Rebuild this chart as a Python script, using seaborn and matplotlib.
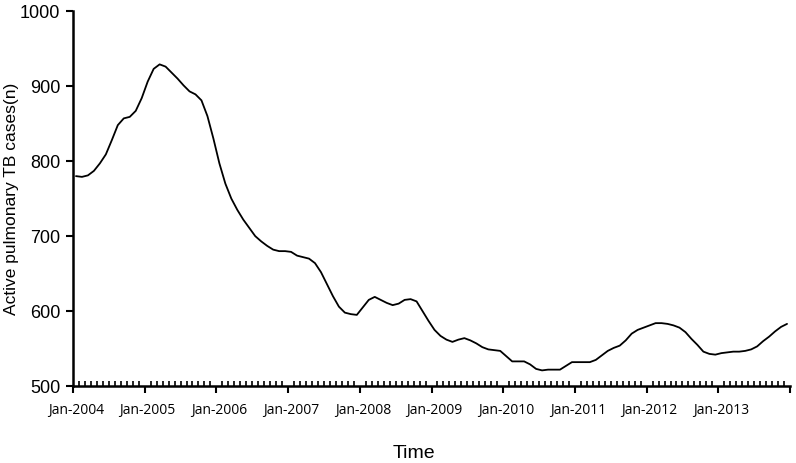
import matplotlib
matplotlib.use("Agg")
import matplotlib.pyplot as plt
import seaborn as sns
import numpy as np
import pandas as pd

# monthly active pulmonary TB cases, Jan-2004 .. Dec-2013
cases = [
    780, 779, 781, 787, 797, 809, 828, 848, 857, 859, 867, 884,
    906, 923, 929, 926, 918, 910, 901, 893, 889, 881, 860, 830,
    797, 770, 750, 735, 722, 711, 700, 693, 687, 682, 680, 680,
    679, 674, 672, 670, 664, 652, 636, 620, 606, 598, 596, 595,
    605, 615, 619, 615, 611, 608, 610, 615, 616, 613, 600, 587,
    575, 567, 562, 559, 562, 564, 561, 557, 552, 549, 548, 547,
    540, 533, 533, 533, 529, 523, 521, 522, 522, 522, 527, 532,
    532, 532, 532, 535, 541, 547, 551, 554, 561, 570, 575, 578,
    581, 584, 584, 583, 581, 578, 572, 563, 555, 546, 543, 542,
    544, 545, 546, 546, 547, 549, 553, 560, 566, 573, 579, 583,
]
years = list(range(2004, 2014))
year_labels = ["Jan-%d" % y for y in years]
y_ticks = [500, 600, 700, 800, 900, 1000]

sns.set_style("white")

# points sit in the middle of each month slot (category axis)
df = pd.DataFrame({"month": np.arange(len(cases)) + 0.5, "cases": cases})

fig = plt.figure(figsize=(7.96, 4.63), dpi=100)
ax = fig.add_axes([0.0917, 0.166, 0.9008, 0.810])
sns.lineplot(data=df, x="month", y="cases", color="black", linewidth=1.3, ax=ax)

ax.set_xlim(0, len(cases))
ax.set_ylim(y_ticks[0], y_ticks[-1])
ax.set_yticks(y_ticks)
ax.set_yticklabels([str(v) for v in y_ticks], fontsize=13, family="Liberation Sans", color="black")

# tick marks at year boundaries (out), month marks (in), labels centred on January
ax.set_xticks(np.arange(0, len(cases) + 1, 12))
ax.set_xticklabels([""] * len(range(0, len(cases) + 1, 12)))
ax.set_xticks(np.arange(0, len(cases) + 1, 1), minor=True)
ax.tick_params(axis="x", which="major", bottom=True, direction="out", length=5, width=1.5, color="black")
ax.tick_params(axis="x", which="minor", bottom=True, direction="in", length=3.5, width=1.2, color="black")
ax.tick_params(axis="y", which="major", left=True, direction="out", length=5, width=1.5, color="black", pad=4)

for x0, lab in zip(np.arange(0, len(cases), 12) + 0.5, year_labels):
    ax.text(x0, -0.045, lab, transform=ax.get_xaxis_transform(), ha="center", va="top",
            fontsize=10, family="Open Sans", color="black")

sns.despine(ax=ax)
for side in ["left", "bottom"]:
    ax.spines[side].set_linewidth(1.8)
    ax.spines[side].set_color("black")

ax.set_xlabel("")
ax.set_ylabel("Active pulmonary TB cases(n)", fontsize=12.5, family="Liberation Sans",
              color="black", labelpad=1)
fig.text(0.52, 0.003, "Time", ha="center", va="bottom", fontsize=14,
         family="Liberation Sans", color="black")

fig.savefig("out.png", dpi=100)
plt.close(fig)
